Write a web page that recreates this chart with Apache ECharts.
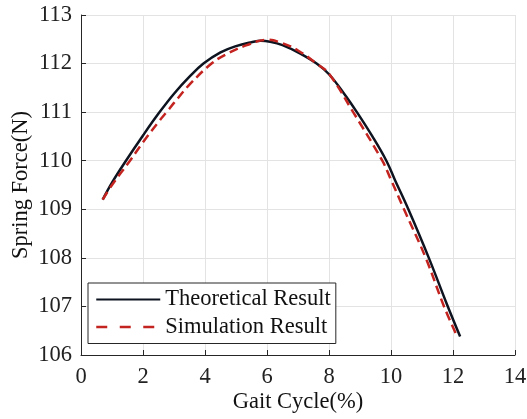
<!DOCTYPE html>
<html>
<head>
<meta charset="utf-8">
<script src="https://cdn.jsdelivr.net/npm/echarts@6/dist/echarts.min.js"></script>
<style>html,body{margin:0;padding:0;background:#fff}#c{width:527px;height:419px}</style>
</head>
<body>
<div id="c"></div>
<script>
// Gait cycle (%) and spring force (N)
const theoX = [0.7, 1.0, 1.45, 2.0, 2.5, 3.0, 3.5, 3.95, 4.5, 5.0, 5.5, 5.8, 6.1, 6.5, 7.06, 7.6, 8.0, 8.5, 8.9, 9.4, 9.85, 10.13, 10.56, 11.22, 11.8, 12.23];
const theoY = [109.2, 109.55, 110.0, 110.52, 110.97, 111.38, 111.73, 112.0, 112.23, 112.36, 112.44, 112.47, 112.45, 112.38, 112.21, 112.0, 111.78, 111.37, 111.0, 110.5, 110.0, 109.6, 109.0, 108.0, 107.05, 106.38];
const simX = [0.7, 1.0, 1.58, 2.0, 2.55, 2.76, 3.0, 3.52, 4.21, 4.65, 5.35, 6.0, 6.5, 7.0, 7.6, 8.0, 8.78, 9.72, 9.97, 10.42, 11.12, 11.71, 12.12];
const simY = [109.2, 109.5, 110.0, 110.38, 110.84, 111.0, 111.19, 111.58, 112.0, 112.18, 112.38, 112.49, 112.42, 112.27, 112.0, 111.79, 111.0, 110.0, 109.65, 109.0, 108.0, 107.0, 106.4];
const xTicks = {min: 0, max: 14, interval: 2};
const yTicks = {min: 106, max: 113, interval: 1};
const seriesNames = ['Theoretical Result', 'Simulation Result'];

const font = 'Liberation Serif';
const fs = 22.5;
const axisColor = '#262626';
const chart = echarts.init(document.getElementById('c'), null, {renderer: 'canvas'});
const pairs = (xs, ys) => xs.map((x, i) => [x, ys[i]]);
chart.setOption({
  animation: false,
  backgroundColor: '#fff',
  grid: {left: 81, right: 12, top: 15, bottom: 64, containLabel: false, outerBoundsMode: 'none'},
  legend: {
    left: 88, top: 283,
    orient: 'vertical',
    data: [
      {name: seriesNames[0]},
      {name: seriesNames[1], lineStyle: {type: [11, 12.5], width: 2.5}}
    ],
    itemWidth: 64, itemHeight: 14, itemGap: 4.5,
    padding: [5, 5, 5, 7],
    borderColor: '#262626', borderWidth: 1, borderRadius: 0,
    backgroundColor: '#fff',
    itemStyle: {opacity: 0},
    textStyle: {fontFamily: font, fontSize: fs, color: '#111'}
  },
  xAxis: {
    type: 'value', min: xTicks.min, max: xTicks.max, interval: xTicks.interval,
    name: 'Gait Cycle(%)', nameLocation: 'middle', nameGap: 36, nameMoveOverlap: false,
    nameTextStyle: {fontFamily: font, fontSize: fs, color: '#111'},
    axisLine: {show: true, onZero: false, lineStyle: {color: axisColor, width: 1}},
    axisTick: {show: true, inside: true, length: 5, lineStyle: {color: axisColor}},
    axisLabel: {fontFamily: font, fontSize: fs, color: '#222', margin: 11},
    splitLine: {show: true, lineStyle: {color: '#e3e3e3', width: 1}}
  },
  yAxis: {
    type: 'value', min: yTicks.min, max: yTicks.max, interval: yTicks.interval,
    name: 'Spring Force(N)', nameLocation: 'middle', nameGap: 48, nameMoveOverlap: false,
    nameTextStyle: {fontFamily: font, fontSize: fs, color: '#111'},
    axisLine: {show: true, lineStyle: {color: axisColor, width: 1}},
    axisTick: {show: true, inside: true, length: 5, lineStyle: {color: axisColor}},
    axisLabel: {fontFamily: font, fontSize: fs, color: '#222', margin: 9},
    splitLine: {show: true, lineStyle: {color: '#e3e3e3', width: 1}}
  },
  series: [
    {
      name: seriesNames[0], type: 'line', data: pairs(theoX, theoY),
      smooth: 0.4, symbol: 'none',
      lineStyle: {color: '#0d1420', width: 2.5, type: 'solid'},
      itemStyle: {color: '#0d1420'}, z: 2
    },
    {
      name: seriesNames[1], type: 'line', data: pairs(simX, simY),
      smooth: 0.4, symbol: 'none',
      lineStyle: {color: '#c42420', width: 2.5, type: [9, 5]},
      itemStyle: {color: '#c42420'}, z: 3
    }
  ]
});
</script>
</body>
</html>
